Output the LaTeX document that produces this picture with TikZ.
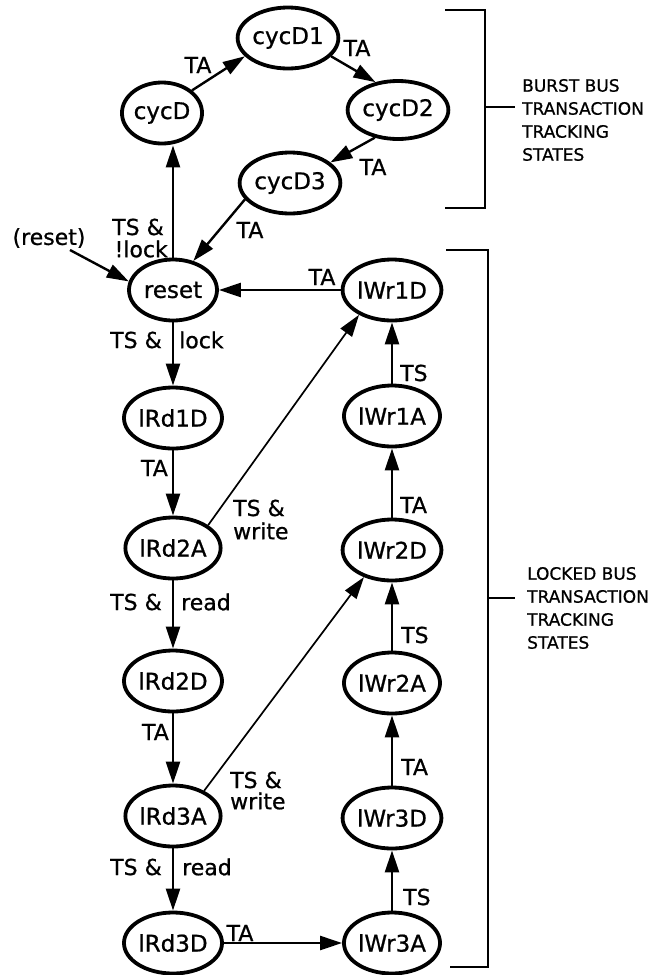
\documentclass[tikz,border=0pt]{standalone}
\usepackage{fontspec}
\setmainfont{DejaVu Sans}
\newfontfamily\heavyfont{DejaVu Sans}[FakeBold=0.8]
\usetikzlibrary{shapes.geometric,arrows.meta}
\begin{document}
\begin{tikzpicture}[x=1pt,y=-1pt,
  st/.style={ellipse,draw,line width=3.8pt,minimum width=88pt,minimum height=61pt,inner sep=0pt,font=\heavyfont\fontsize{23}{25}\selectfont},
  tr/.style={line width=2.4pt,-{Triangle[length=22pt,width=14pt]}},
  trd/.style={line width=1.7pt,-{Triangle[length=22pt,width=14pt]}},
  lb/.style={font=\heavyfont\fontsize{22}{24}\selectfont,inner sep=0pt},
  br/.style={line width=2pt},
  bt/.style={font=\heavyfont\fontsize{17}{23}\selectfont,align=left,anchor=west,inner sep=0pt}]
\useasboundingbox (0,0) rectangle (649,975);
% states
\node[st] (cycD1) at (288,38) {cycD1};
\node[st,minimum width=75pt] (cycD) at (162,113) {cycD};
\node[st,minimum width=84pt,minimum height=58pt] (cycD2) at (398,110) {cycD2};
\node[st] (cycD3) at (290,183) {cycD3};
\node[st] (reset) at (173,290) {reset};
\node[st] (lWr1D) at (392,290) {lWr1D};
\node[st] (lRd1D) at (173,418) {lRd1D};
\node[st] (lWr1A) at (392,416) {lWr1A};
\node[st] (lRd2A) at (173,548) {lRd2A};
\node[st] (lWr2D) at (392,550) {lWr2D};
\node[st] (lRd2D) at (173,681) {lRd2D};
\node[st] (lWr2A) at (392,683) {lWr2A};
\node[st] (lRd3A) at (173,816) {lRd3A};
\node[st] (lWr3D) at (392,818) {lWr3D};
\node[st] (lRd3D) at (173,943) {lRd3D};
\node[st] (lWr3A) at (392,943) {lWr3A};
\coordinate (rin) at (70,250);
% burst transitions
\draw[tr] (cycD.37) -- (cycD1.203);
\draw[tr] (cycD1.337) -- (cycD2.129);
\draw[tr] (cycD2.230) -- (cycD3.27);
\draw[tr] (cycD3.200) -- (reset.55);
\draw[tr] (reset.north) -- (reset.north |- cycD.south);
\draw[tr] (rin) -- (reset.169);
% locked transitions
\draw[tr] (lWr1D) -- (reset);
\draw[tr] (reset) -- (lRd1D);
\draw[tr] (lRd1D) -- (lRd2A);
\draw[tr] (lRd2A) -- (lRd2D);
\draw[tr] (lRd2D) -- (lRd3A);
\draw[tr] (lRd3A) -- (lRd3D);
\draw[tr] (lRd3D) -- (lWr3A);
\draw[tr] (lWr3A) -- (lWr3D);
\draw[tr] (lWr3D) -- (lWr2A);
\draw[tr] (lWr2A) -- (lWr2D);
\draw[tr] (lWr2D) -- (lWr1A);
\draw[tr] (lWr1A) -- (lWr1D);
\draw[trd] (lRd2A.33) -- (lWr1D.217);
\draw[trd] (lRd3A.39) -- (lWr2D.224);
% labels
\node[lb] (l1) at (198,65) {TA};
\node[lb] (l2) at (357,48) {TA};
\node[lb] (l3) at (373,167) {TA};
\node[lb] (l4) at (250,230) {TA};
\node[lb,anchor=east] (l5) at (164,227) {TS \&};
\node[lb,anchor=east] (l6) at (168,249) {!lock};
\node[lb] (l7) at (49,238) {(reset)};
\node[lb] (l8) at (322,277) {TA};
\node[lb,anchor=east] (l9) at (162,340) {TS \&};
\node[lb,anchor=west] (l10) at (179,340) {lock};
\node[lb,anchor=east] (l11) at (168,468) {TA};
\node[lb,anchor=west] (l12) at (233,508) {TS \&};
\node[lb,anchor=west] (l13) at (233,531) {write};
\node[lb,anchor=west] (l14) at (400,373) {TS};
\node[lb,anchor=west] (l15) at (400,505) {TA};
\node[lb,anchor=east] (l16) at (162,602) {TS \&};
\node[lb,anchor=west] (l17) at (181,602) {read};
\node[lb,anchor=west] (l18) at (401,635) {TS};
\node[lb,anchor=east] (l19) at (169,732) {TA};
\node[lb,anchor=west] (l20) at (230,780) {TS \&};
\node[lb,anchor=west] (l21) at (230,801) {write};
\node[lb,anchor=west] (l22) at (401,767) {TA};
\node[lb,anchor=east] (l23) at (162,867) {TS \&};
\node[lb,anchor=west] (l24) at (182,867) {read};
\node[lb,anchor=west] (l25) at (403,897) {TS};
\node[lb] (l26) at (240,933) {TA};
% brackets
\draw[br] (445,10) -- (485,10) -- (485,208) -- (445,208);
\draw[br] (485,107) -- (515,107);
\node[bt] (bb) at (522,120) {BURST BUS\\TRANSACTION\\TRACKING\\STATES};
\draw[br] (446,250) -- (488,250) -- (488,967) -- (450,967);
\draw[br] (488,598) -- (515,598);
\node[bt] (lk) at (527,608) {LOCKED BUS\\TRANSACTION\\TRACKING\\STATES};
\end{tikzpicture}
\end{document}
